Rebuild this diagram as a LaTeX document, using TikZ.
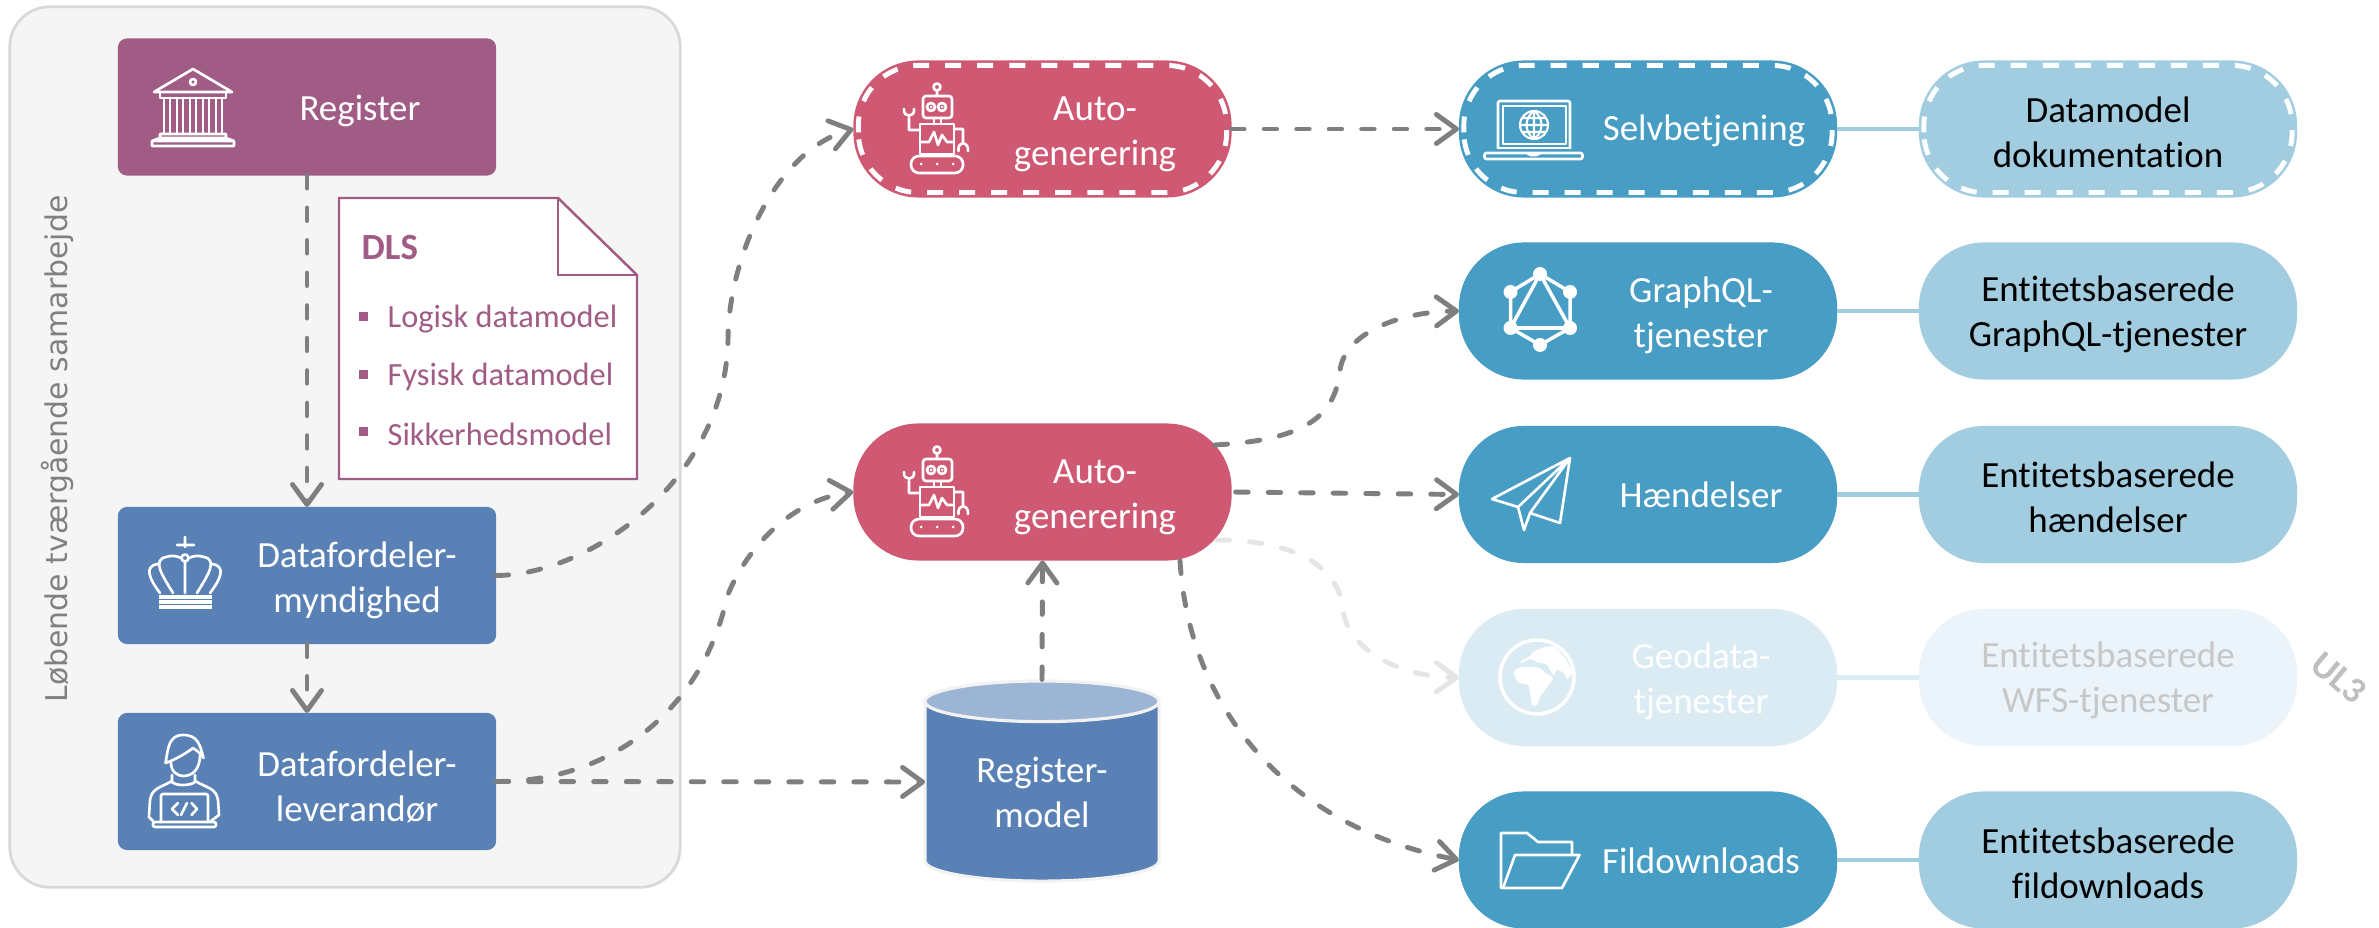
\documentclass[tikz,border=0pt]{standalone}
\usepackage{fontspec}
\setmainfont[Ligatures=NoCommon]{Carlito}
\newfontfamily\panelfont{DejaVu Sans}
\usetikzlibrary{arrows.meta,calc,shapes.geometric}

\definecolor{regmauve}{HTML}{A05C85}
\definecolor{dfblue}{HTML}{5981B5}
\definecolor{cyltop}{HTML}{9DB5D5}
\definecolor{autored}{HTML}{CF5972}
\definecolor{apiteal}{HTML}{479DC4}
\definecolor{doclight}{HTML}{A2CDE0}
\definecolor{apifaded}{HTML}{DAEBF3}
\definecolor{docfaded}{HTML}{EBF4FA}
\definecolor{flowgray}{HTML}{7F7F7F}

\tikzset{
	basefont/.style={font=\fontsize{10.5}{12.8}\selectfont},
	panelbox/.style={rectangle, rounded corners=0.4cm, minimum width=6.7cm, minimum height=8.8cm, fill=black!4, draw=black!15, line width=0.8pt},
	dfbox/.style={rectangle, rounded corners=0.09cm, minimum width=3.78cm, minimum height=1.37cm, inner sep=0pt, outer sep=0pt},
	pill/.style={rectangle, rounded corners=0.65cm, minimum width=3.78cm, minimum height=1.37cm, inner sep=0pt, outer sep=0pt},
	boxtext/.style={align=center, text=white, inner sep=0pt, basefont},
	doctext/.style={boxtext, text=black},
	flow/.style={draw=flowgray, line width=1.4pt, line cap=round, dash pattern=on 0.125cm off 0.2cm, -{Straight Barb[length=0.2cm,width=0.29cm,round]}},
	fadedflow/.style={flow, draw=black!10},
	joinline/.style={draw=doclight, line width=1.3pt},
	whitedash/.style={draw=white, line width=1.4pt, dash pattern=on 0.16cm off 0.16cm, rounded corners=0.6cm},
	iconline/.style={draw=white, line width=0.75pt, line join=round, line cap=round},
	robot/.pic={
		\draw[iconline] (0,-42) circle (3.5) (0,-38) -- (0,-33);
		\draw[iconline, rounded corners=0.03cm] (-14,-33) rectangle (15,-11);
		\draw[iconline] (-6,-22) circle (4) (5,-22) circle (4);
		\fill[white] (-6,-22) circle (1.5) (5,-22) circle (1.5);
		\draw[iconline] (-3,-11) -- (-3,-5) (4,-11) -- (4,-5);
		\draw[iconline] (-17,-5) rectangle (17,25);
		\draw[iconline] (-17,13) -- (-8,13) -- (-3,3) -- (1,16) -- (5,6) -- (10,13) -- (17,13);
		\draw[iconline] (-17,1) -- (-28,1) -- (-28,-11) (-33,-20) .. controls (-34,-11) and (-22,-11) .. (-23,-20);
		\draw[iconline] (17,0) -- (26,0) -- (26,13) (21.5,22) .. controls (20,12) and (32,12) .. (31,22);
		\draw[iconline, rounded corners=0.08cm] (-26,27) rectangle (26,44);
		\fill[white] (-16,35) circle (1.5) (0,35) circle (1.5) (16,35) circle (1.5);
	}
}

\begin{document}
\begin{tikzpicture}[x=0.01cm,y=-0.01cm]
\useasboundingbox (0,0) rectangle (2379,928);

\node[panelbox] (panel) at (345,447) {};
\node[rotate=90, text=black!50, font=\panelfont\fontsize{8.5}{10}\selectfont, inner sep=0pt] (paneltext) at (57,449) {Løbende tværgående samarbejde};

\node[dfbox, fill=regmauve] (register) at (307,107) {};
\node[dfbox, fill=dfblue] (authority) at (307,575.5) {};
\node[dfbox, fill=dfblue] (supplier) at (307,781.5) {};
\node[boxtext] (registertext) at (360,111) {Register};
\node[boxtext] (authoritytext) at (357,580) {Datafordeler-\\myndighed};
\node[boxtext] (suppliertext) at (357,787) {Datafordeler-\\leverandør};

\draw[draw=regmauve, line width=0.7pt, fill=white] (339,198) -- (558,198) -- (637,275) -- (637,479) -- (339,479) -- cycle;
\draw[draw=regmauve, line width=0.7pt] (558,198) -- (558,275) -- (637,275);
\node[anchor=west, inner sep=0pt, text=regmauve, font=\bfseries\fontsize{10.5}{12.8}\selectfont] (dlstitle) at (361,248) {DLS};
\foreach \y/\txt in {319/Logisk datamodel,377/Fysisk datamodel,434/Sikkerhedsmodel} {
	\fill[regmauve] (358.5,\y-6.5) rectangle (367.5,\y+2.5);
	\node[anchor=west, inner sep=0pt, text=regmauve, font=\fontsize{9.2}{11}\selectfont] (dls\y) at (387,\y) {\txt};
}

\node[pill, fill=autored] (autotop) at (1042.5,129) {};
\node[pill, fill=autored] (autobottom) at (1042.5,492) {};
\node[boxtext] (autotoptext) at (1095,134) {Auto-\\generering};
\node[boxtext] (autobottomtext) at (1095,497) {Auto-\\generering};

\node[cylinder, shape border rotate=90, aspect=0.31, minimum width=2.34cm, minimum height=2cm, inner sep=0pt, draw=black!5, line width=0.9pt, cylinder uses custom fill, cylinder body fill=dfblue, cylinder end fill=cyltop, text=white, align=center, basefont] (regmodel) at (1042,792) {Register-\\model};
\coordinate (regmodelin) at (925,782);

\node[pill, fill=apiteal] (selfserve) at (1648,129) {};
\node[pill, fill=apiteal] (graphql) at (1648,311) {};
\node[pill, fill=apiteal] (events) at (1648,494.5) {};
\node[pill, fill=apifaded] (geodata) at (1648,677.5) {};
\node[pill, fill=apiteal] (downloads) at (1648,860) {};
\node[boxtext] (selfservetext) at (1704,131) {Selvbetjening};
\node[boxtext] (graphqltext) at (1701,315) {GraphQL-\\tjenester};
\node[boxtext] (eventstext) at (1701,495) {Hændelser};
\node[boxtext] (geodatatext) at (1701,681) {Geodata-\\tjenester};
\node[boxtext] (downloadstext) at (1701,861) {Fildownloads};

\node[pill, fill=doclight] (docmodel) at (2108,129) {};
\node[pill, fill=doclight] (docgraphql) at (2108,311) {};
\node[pill, fill=doclight] (docevents) at (2108,494.5) {};
\node[pill, fill=docfaded] (docwfs) at (2108,677.5) {};
\node[pill, fill=doclight] (docdownloads) at (2108,860) {};
\node[doctext] (docmodeltext) at (2108,132) {Datamodel\\dokumentation};
\node[doctext] (docgraphqltext) at (2108,314) {Entitetsbaserede\\GraphQL-tjenester};
\node[doctext] (doceventstext) at (2108,497) {Entitetsbaserede\\hændelser};
\node[doctext, text=black!22] (docwfstext) at (2108,680) {Entitetsbaserede\\WFS-tjenester};
\node[doctext] (docdownloadstext) at (2108,863) {Entitetsbaserede\\fildownloads};
\node[rotate=-40, text=black!25, inner sep=0pt, font=\bfseries\fontsize{10.5}{11}\selectfont] (ulthree) at (2339,678) {UL3};

\foreach \n in {autotop,selfserve,docmodel} {
	\draw[whitedash] ($(\n.south west)+(5,-5)$) rectangle ($(\n.north east)+(-5,5)$);
}

\draw[joinline] (selfserve.east) -- (docmodel.west);
\draw[joinline] (graphql.east) -- (docgraphql.west);
\draw[joinline] (events.east) -- (docevents.west);
\draw[joinline, draw=apifaded] (geodata.east) -- (docwfs.west);
\draw[joinline] (downloads.east) -- (docdownloads.west);

\coordinate (graphqlout) at (1215,445);
\coordinate (geoout) at (1217,540);
\coordinate (downloadout) at (1180,561);

\draw[flow] (register.south) -- (authority.north);
\draw[flow] (authority.south) -- (supplier.north);
\draw[flow] (authority.east) .. controls (590,575) and (725,480) .. (728,340) .. controls (728,260) and (775,150) .. (autotop.west);
\draw[flow] (supplier.east) .. controls (620,782) and (705,700) .. (727,597) .. controls (745,550) and (790,500) .. (autobottom.west);
\draw[flow] (supplier.east) -- (regmodelin);
\draw[flow] (regmodel.north) -- (autobottom.south);
\draw[flow] (autotop.east) -- (selfserve.west);
\draw[flow] (graphqlout) .. controls (1300,440) and (1335,420) .. (1340,370) .. controls (1345,335) and (1395,312) .. (graphql.west);
\draw[flow, shorten <=0.04cm] (autobottom.east) -- (events.west);
\draw[fadedflow] (geoout) .. controls (1300,540) and (1340,570) .. (1343,610) .. controls (1348,650) and (1400,677) .. (geodata.west);
\draw[flow] (downloadout) .. controls (1190,720) and (1300,830) .. (downloads.west);

\draw[iconline] (193,69) -- (154,92) -- (232,92) -- cycle (193,82) circle (3);
\draw[iconline] (160,92) rectangle (226,98) (163,98) -- (223,98);
\foreach \x in {164,177,190,203,216} {
	\draw[iconline] (\x,98) -- (\x,134) (\x+6,98) -- (\x+6,134);
}
\draw[iconline] (160,134) rectangle (226,138) (160,138) -- (152,141) -- (234,141) -- (226,138) (152,141) rectangle (234,146);

\draw[iconline] (185,537) -- (185,547) (177,545) -- (194,545) (185,562) -- (185,593) (185,558) circle (3.5);
\draw[iconline] (160,593) .. controls (150,580) and (143,566) .. (158,564) (173,593) .. controls (162,575) and (152,560) .. (166,557) .. controls (172,555) and (177,556) .. (181,558);
\draw[iconline] (210,593) .. controls (220,580) and (227,566) .. (212,564) (197,593) .. controls (208,575) and (218,560) .. (204,557) .. controls (198,555) and (193,556) .. (189,558);
\foreach \y in {597,602,607} {
	\draw[iconline, line width=1pt, line cap=butt] (159,\y) -- (212,\y);
}

\draw[iconline] (165.5,763) .. controls (168,750) and (168,735) .. (183,735) .. controls (198,735) and (200,745) .. (203.5,758) .. controls (198,750) and (195,750) .. (193,748) .. controls (188,752) and (175,760) .. (165.5,763);
\draw[iconline] (171,763) .. controls (171,772) and (178,776) .. (183,776) .. controls (192,776) and (200,770) .. (200,755);
\draw[iconline] (172,775) -- (172,782) .. controls (176,786) and (190,786) .. (195,782) -- (195,775);
\draw[iconline] (172,781) .. controls (160,788) and (152,788) .. (150,800) -- (149,817) -- (153,821) (195,781) .. controls (207,788) and (216,788) .. (218,800) -- (219,815) -- (211,821);
\draw[iconline, rounded corners=0.02cm] (161,822) -- (161,794) -- (208,794) -- (208,822);
\draw[iconline, rounded corners=0.02cm] (153,822) rectangle (216,827);
\draw[iconline] (178,803) -- (172,809) -- (178,815) (191.5,803) -- (197,809) -- (191.5,815) (187,803) -- (181,815);

\pic at (937,129) {robot};
\pic at (937,492) {robot};

\draw[iconline, rounded corners=0.02cm] (1498,148) -- (1498,101) -- (1570,101) -- (1570,148);
\draw[iconline] (1503,106) rectangle (1566,144) (1498,148) -- (1570,148);
\draw[iconline, rounded corners=0.02cm] (1484.5,153) rectangle (1582.5,159) (1527,153) -- (1529,155) -- (1538,155) -- (1540,153);
\draw[iconline, line width=0.6pt] (1534,125) circle (14) (1534,111) -- (1534,139) (1520,125) -- (1548,125) (1522,118) -- (1546,118) (1522,132) -- (1546,132);
\draw[iconline, line width=0.6pt] (1534,111) .. controls (1524,118) and (1524,132) .. (1534,139) .. controls (1544,132) and (1544,118) .. (1534,111);

\draw[iconline, line width=1pt] (1540,274) -- (1570,292) -- (1570,328) -- (1540,345) -- (1510.5,328) -- (1510.5,292) -- cycle (1540,274) -- (1570,328) -- (1510.5,328) -- cycle;
\foreach \x/\y in {1540/274,1570/292,1570/328,1540/345,1510.5/328,1510.5/292} {
	\fill[white] (\x,\y) circle (7);
}

\draw[iconline] (1570,458) -- (1492,499) -- (1518,507) -- cycle (1570,458) -- (1560,523) -- (1530,513) -- cycle (1518,507) -- (1524,530) -- (1530,513);

\draw[iconline, line width=1pt] (1537,677) circle (37);
\fill[white] plot[smooth cycle, tension=0.5] coordinates {(1514,673) (1518,668) (1527,667) (1540,668) (1545,673) (1553,678) (1547,687) (1540,697) (1537,705) (1532,705) (1530,693) (1528,685) (1518,682)};
\fill[white] plot[smooth cycle, tension=0.4] coordinates {(1535,651) (1545,647) (1555,647) (1565,658) (1572,672) (1567,679) (1564,673) (1557,670) (1553,675) (1547,665) (1537,662) (1530,659) (1522,663) (1521,661) (1530,656)};

\draw[iconline] (1563,842) -- (1572,842) -- (1572,855) (1501,888) -- (1501,833) -- (1527,833) -- (1538,842) -- (1572,842);
\draw[iconline] (1503,888) -- (1515,855) -- (1579.5,855) -- (1562,888) -- cycle;
\end{tikzpicture}
\end{document}
